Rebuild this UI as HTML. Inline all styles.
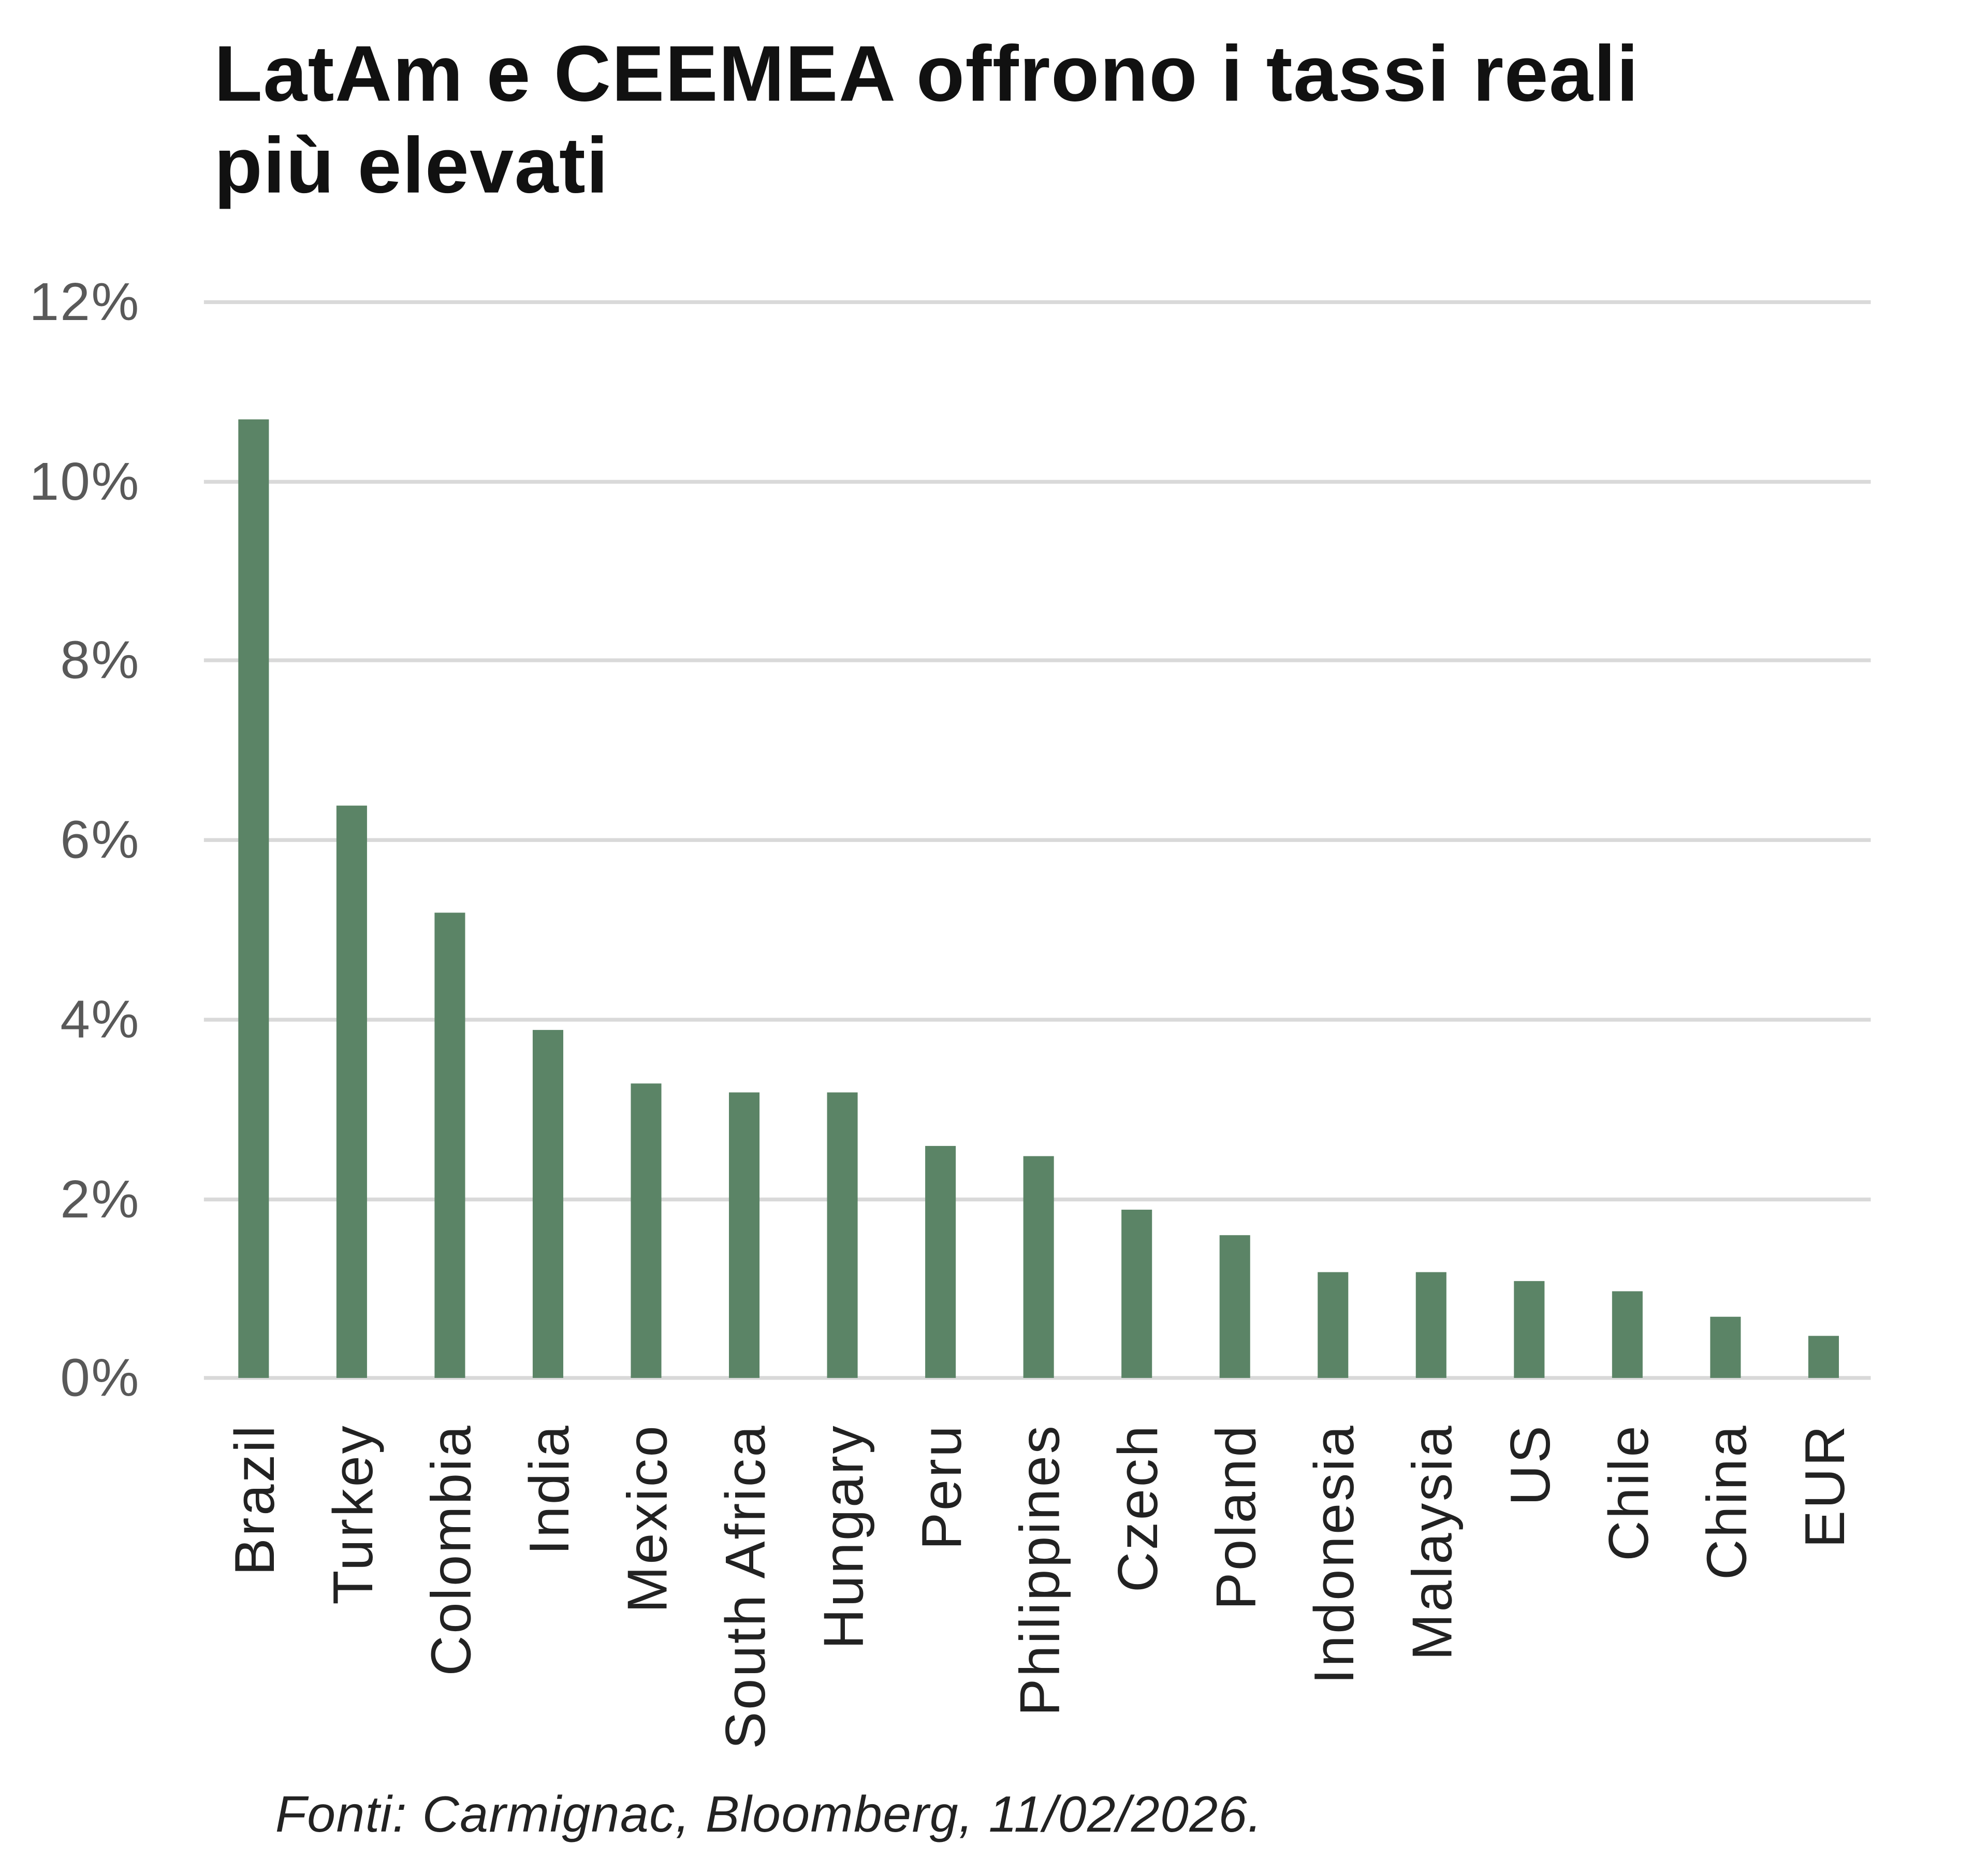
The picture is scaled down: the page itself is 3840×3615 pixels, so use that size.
<!DOCTYPE html>
<html><head><meta charset="utf-8"><style>html,body{margin:0;padding:0;background:#fff}svg{display:block}</style></head>
<body>
<svg xmlns="http://www.w3.org/2000/svg" width="3840" height="3615" viewBox="0 0 1560 1468.6">
<rect width="1560" height="1468.6" fill="#fff"/>
<g font-family="'Liberation Sans', sans-serif">
<text x="168" y="79" font-size="62" font-weight="bold" fill="#111" letter-spacing="0.6">LatAm e CEEMEA offrono i tassi reali</text>
<text x="168" y="151" font-size="62" font-weight="bold" fill="#111" letter-spacing="0.6">più elevati</text>
<g stroke="#d9d9d9" stroke-width="3">
<line x1="160" x2="1468" y1="237" y2="237"/><line x1="160" x2="1468" y1="378" y2="378"/>
<line x1="160" x2="1468" y1="518" y2="518"/><line x1="160" x2="1468" y1="659" y2="659"/>
<line x1="160" x2="1468" y1="800" y2="800"/><line x1="160" x2="1468" y1="941" y2="941"/>
<line x1="160" x2="1468" y1="1081" y2="1081"/>
</g>
<g font-size="42" fill="#595959" text-anchor="end" letter-spacing="1">
<text x="110" y="251">12%</text><text x="110" y="392">10%</text><text x="110" y="532">8%</text>
<text x="110" y="673">6%</text><text x="110" y="814">4%</text><text x="110" y="955">2%</text><text x="110" y="1095">0%</text>
</g>
<g fill="#5b8466">
<rect x="187" y="329" width="24" height="752"/>
<rect x="264" y="632" width="24" height="449"/>
<rect x="341" y="716" width="24" height="365"/>
<rect x="418" y="808" width="24" height="273"/>
<rect x="495" y="850" width="24" height="231"/>
<rect x="572" y="857" width="24" height="224"/>
<rect x="649" y="857" width="24" height="224"/>
<rect x="726" y="899" width="24" height="182"/>
<rect x="803" y="907" width="24" height="174"/>
<rect x="880" y="949" width="24" height="132"/>
<rect x="957" y="969" width="24" height="112"/>
<rect x="1034" y="998" width="24" height="83"/>
<rect x="1111" y="998" width="24" height="83"/>
<rect x="1188" y="1005" width="24" height="76"/>
<rect x="1265" y="1013" width="24" height="68"/>
<rect x="1342" y="1033" width="24" height="48"/>
<rect x="1419" y="1048" width="24" height="33"/>
</g>
<g font-size="44" fill="#222" text-anchor="end" letter-spacing="1.5">
<text transform="translate(215,1117) rotate(-90)">Brazil</text>
<text transform="translate(292,1117) rotate(-90)">Turkey</text>
<text transform="translate(369,1117) rotate(-90)">Colombia</text>
<text transform="translate(446,1117) rotate(-90)">India</text>
<text transform="translate(523,1117) rotate(-90)">Mexico</text>
<text transform="translate(600,1117) rotate(-90)">South Africa</text>
<text transform="translate(677,1117) rotate(-90)">Hungary</text>
<text transform="translate(754,1117) rotate(-90)">Peru</text>
<text transform="translate(831,1117) rotate(-90)">Philippines</text>
<text transform="translate(908,1117) rotate(-90)">Czech</text>
<text transform="translate(985,1117) rotate(-90)">Poland</text>
<text transform="translate(1062,1117) rotate(-90)">Indonesia</text>
<text transform="translate(1139,1117) rotate(-90)">Malaysia</text>
<text transform="translate(1216,1117) rotate(-90)">US</text>
<text transform="translate(1293,1117) rotate(-90)">Chile</text>
<text transform="translate(1370,1117) rotate(-90)">China</text>
<text transform="translate(1447,1117) rotate(-90)">EUR</text>
</g>
<text x="216" y="1437" font-size="40" font-style="italic" fill="#222" letter-spacing="0.6">Fonti: Carmignac, Bloomberg, 11/02/2026.</text>
</g>
</svg>
</body></html>
